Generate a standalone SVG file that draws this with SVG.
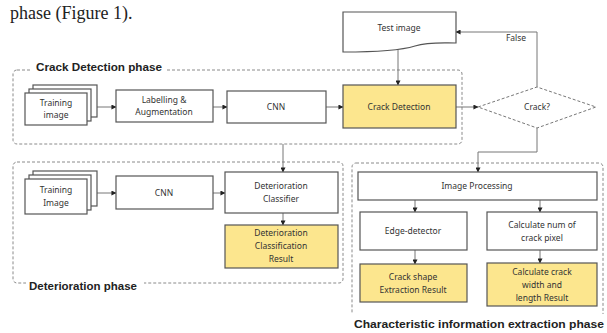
<svg xmlns="http://www.w3.org/2000/svg" width="607" height="333" viewBox="0 0 607 333">
<defs>
<marker id="ah" viewBox="0 0 6 6" refX="5.5" refY="3" markerWidth="5" markerHeight="5" orient="auto" markerUnits="userSpaceOnUse">
<path d="M0,0 L6,3 L0,6 z" fill="#222"/>
</marker>
<style>
.box{fill:#fff;stroke:#555;stroke-width:1.2}
.yel{fill:#fce68e;stroke:#555;stroke-width:1.2}
.phase{fill:none;stroke:#8a8a8a;stroke-width:1;stroke-dasharray:3 2}
.t{font-family:"Noto Sans","Liberation Sans",sans-serif;font-size:8.5px;fill:#333;text-anchor:middle}
.pl{font-family:"Liberation Sans","Noto Sans",sans-serif;font-size:10px;font-weight:bold;fill:#222}
.c{fill:none;stroke:#777;stroke-width:1;marker-end:url(#ah)}
</style>
</defs>
<rect width="607" height="333" fill="#fff"/>
<text x="10" y="19" font-family="Liberation Serif, serif" font-size="18" fill="#222">phase (Figure 1).</text>

<!-- phase frames -->
<g id="crack-detection-phase">
<rect class="phase" x="13" y="70" width="449" height="74" rx="4"/>
<rect x="32" y="61" width="134" height="13" fill="#fff"/>
<text class="pl" x="36" y="71" textLength="126" lengthAdjust="spacingAndGlyphs">Crack Detection phase</text>
</g>
<g id="deterioration-phase">
<rect class="phase" x="13" y="162" width="330" height="121" rx="4"/>
<rect x="26" y="277" width="118" height="14" fill="#fff"/>
<text class="pl" x="29" y="290" textLength="108" lengthAdjust="spacingAndGlyphs">Deterioration phase</text>
</g>
<g id="characteristic-phase">
<rect class="phase" x="352" y="163" width="251" height="156" rx="4"/>
<rect x="350" y="314" width="257" height="19" fill="#fff"/>
<text class="pl" x="354" y="328" textLength="250" lengthAdjust="spacingAndGlyphs">Characteristic information extraction phase</text>
</g>

<!-- connectors -->
<g id="connectors">
<path class="c" d="M97,107 H116"/>
<path class="c" d="M213,107 H227"/>
<path class="c" d="M326,107 H343"/>
<path class="c" d="M456,107 H478"/>
<path class="c" d="M537,87 V32 H456"/>
<path class="c" d="M398,49 V85"/>
<path class="c" d="M537,128 V152 H478 V172"/>
<path class="c" d="M283,144 V172"/>
<path class="c" d="M97,193 H116"/>
<path class="c" d="M213,193 H225"/>
<path class="c" d="M283,213 V225"/>
<path class="c" d="M415,200 V212"/>
<path class="c" d="M540,200 V212"/>
<path class="c" d="M415,250 V264"/>
<path class="c" d="M540,250 V263"/>
<text class="t" x="516" y="41" font-size="7">False</text>
</g>

<!-- nodes -->
<g id="test-image">
<path class="box" d="M343,12 H456 V43 C440,43 428,42 415,46 C402,50 385,52 343,52 Z"/>
<text class="t" x="399" y="31" font-size="9">Test image</text>
</g>
<g id="crack-check">
<path d="M478,107 L537,87 L596,107 L537,128 Z" fill="#fff" stroke="#777" stroke-width="1" stroke-dasharray="3 2"/>
<text class="t" x="537" y="110">Crack?</text>
</g>
<g id="training-image-1">
<rect class="box" x="33" y="85" width="64" height="32"/>
<rect class="box" x="29" y="89" width="62" height="32"/>
<rect class="box" x="25" y="93" width="62" height="32"/>
<text class="t" x="56" y="106">Training</text>
<text class="t" x="56" y="118">image</text>
</g>
<g id="labelling">
<rect class="box" x="116" y="90" width="97" height="32"/>
<text class="t" x="164" y="103">Labelling &amp;</text>
<text class="t" x="164" y="115">Augmentation</text>
</g>
<g id="cnn-1">
<rect class="box" x="227" y="91" width="99" height="32"/>
<text class="t" x="276" y="110">CNN</text>
</g>
<g id="crack-detection">
<rect class="yel" x="343" y="85" width="113" height="43"/>
<text class="t" x="399" y="110" font-size="9">Crack Detection</text>
</g>
<g id="training-image-2">
<rect class="box" x="33" y="171" width="64" height="35"/>
<rect class="box" x="29" y="175" width="62" height="35"/>
<rect class="box" x="25" y="179" width="62" height="35"/>
<text class="t" x="56" y="193">Training</text>
<text class="t" x="56" y="206">Image</text>
</g>
<g id="cnn-2">
<rect class="box" x="116" y="176" width="97" height="33"/>
<text class="t" x="164" y="196">CNN</text>
</g>
<g id="deterioration-classifier">
<rect class="box" x="225" y="172" width="113" height="41"/>
<text class="t" x="281" y="189">Deterioration</text>
<text class="t" x="281" y="202">Classifier</text>
</g>
<g id="deterioration-result">
<rect class="yel" x="225" y="225" width="113" height="43"/>
<text class="t" x="281" y="236">Deterioration</text>
<text class="t" x="281" y="249">Classification</text>
<text class="t" x="281" y="262">Result</text>
</g>
<g id="image-processing">
<rect class="box" x="358" y="172" width="239" height="28"/>
<text class="t" x="477" y="189">Image Processing</text>
</g>
<g id="edge-detector">
<rect class="box" x="360" y="212" width="107" height="38"/>
<text class="t" x="413" y="234">Edge-detector</text>
</g>
<g id="calc-num">
<rect class="box" x="487" y="212" width="110" height="38"/>
<text class="t" x="542" y="228">Calculate num of</text>
<text class="t" x="542" y="241">crack pixel</text>
</g>
<g id="crack-shape-result">
<rect class="yel" x="360" y="264" width="107" height="38"/>
<text class="t" x="413" y="280">Crack shape</text>
<text class="t" x="413" y="293">Extraction Result</text>
</g>
<g id="crack-width-result">
<rect class="yel" x="487" y="263" width="110" height="43"/>
<text class="t" x="542" y="275">Calculate  crack</text>
<text class="t" x="542" y="288">width and</text>
<text class="t" x="542" y="301">length Result</text>
</g>
</svg>
